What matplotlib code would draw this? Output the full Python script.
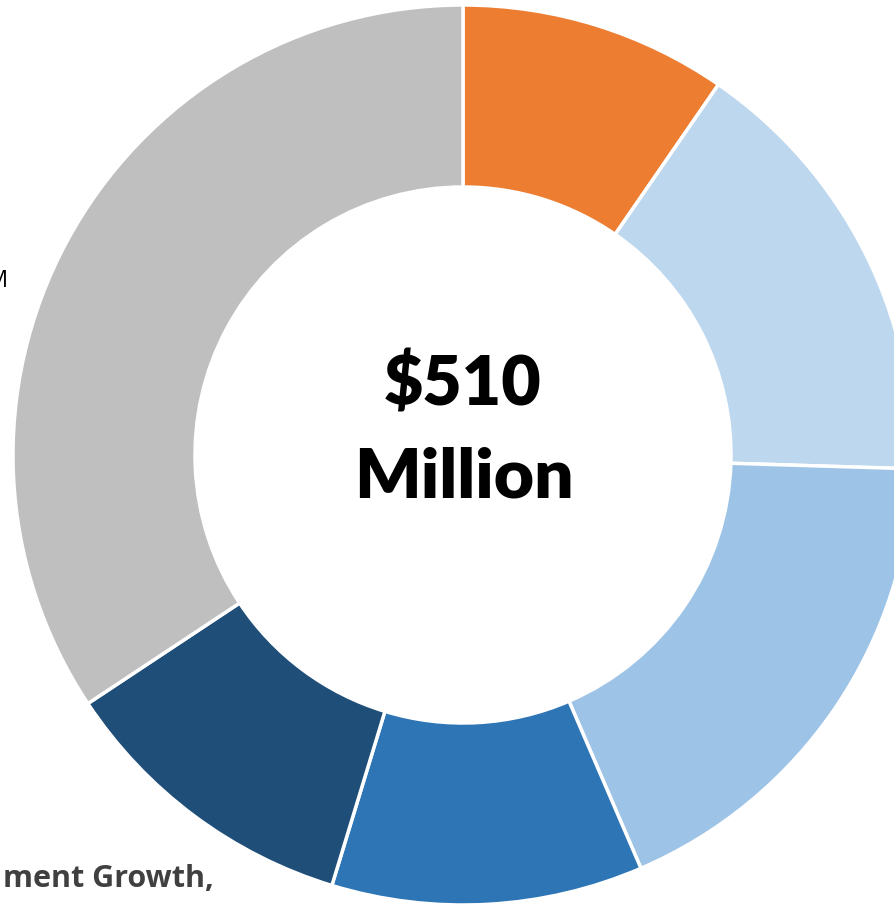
import matplotlib.pyplot as plt

# budget split in $ millions, clockwise from the top
categories = ['Orange', 'Light blue', 'Mid blue', 'Blue', 'Navy', 'Gray']
values = [49, 81, 92, 57, 56, 175]
colors = ['#ED7D31', '#BDD7EE', '#9DC3E6', '#2E75B6', '#1F4E79', '#BFBFBF']

W, H = 895, 905

fig = plt.figure(figsize=(W / 100, H / 100), dpi=100)
ax = fig.add_axes([0, 0, 1, 1])

ax.pie(values, colors=colors, center=(463, H - 455), radius=450,
       startangle=90, counterclock=False,
       wedgeprops=dict(width=182, edgecolor='white', linewidth=2.5))

ax.set_xlim(0, W)
ax.set_ylim(0, H)
ax.axis('off')

ax.text(463, H - 386, '$510', ha='center', va='center', fontsize=49,
        fontweight='heavy', family='Lato', color='black')
ax.text(464, H - 478, 'Million', ha='center', va='center', fontsize=50,
        fontweight='heavy', family='Lato', color='black')

# labels cut off by the crop, as in the source image
ax.text(8, H - 281, 'M', ha='right', va='center', fontsize=17,
        family='Open Sans', color='black')
ax.text(214, H - 879, 'ment Growth,', ha='right', va='center', fontsize=22,
        fontweight='bold', family='Open Sans', color='#404040')

fig.savefig('out.png', dpi=100)
plt.close()
